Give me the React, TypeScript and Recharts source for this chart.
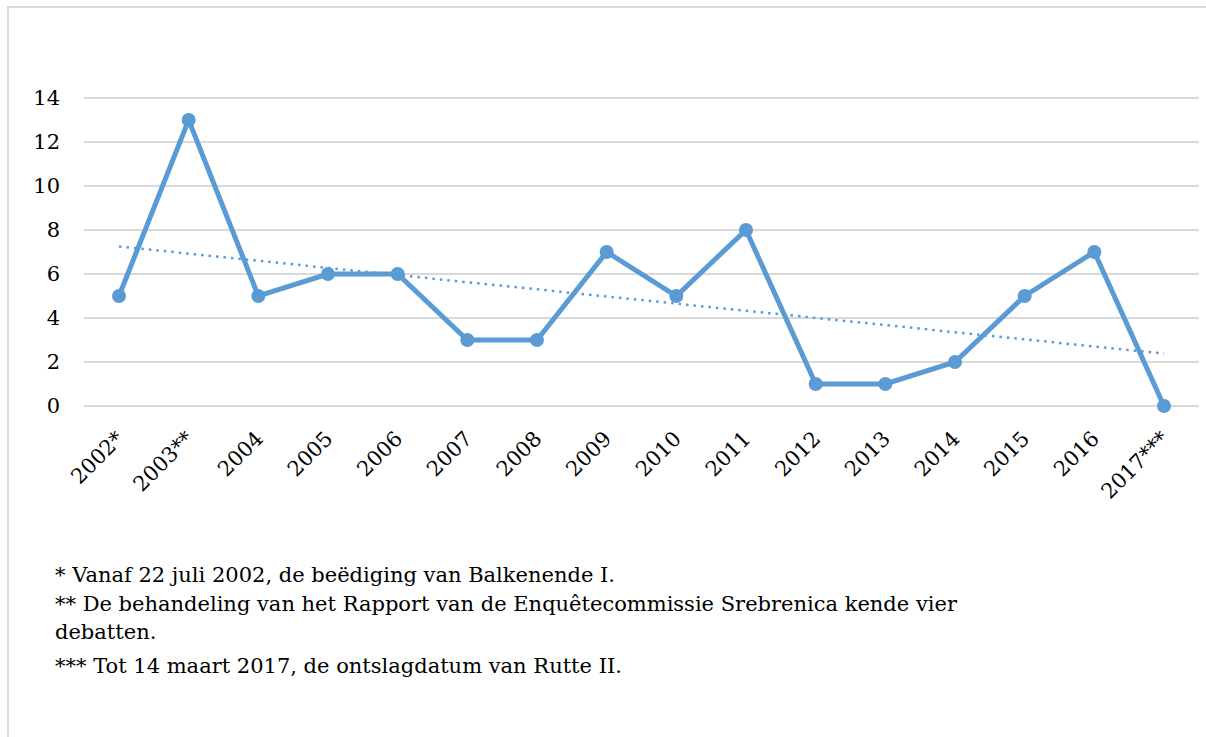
import { LineChart, Line, XAxis, YAxis, CartesianGrid } from "recharts";

const years = [
  "2002*", "2003**", "2004", "2005", "2006", "2007", "2008", "2009",
  "2010", "2011", "2012", "2013", "2014", "2015", "2016", "2017***",
];
const debates = [5, 13, 5, 6, 6, 3, 3, 7, 5, 8, 1, 1, 2, 5, 7, 0];
// linear trendline, read at the first and last year
const trendStart = 7.25;
const trendEnd = 2.38;
const yTicks = [0, 2, 4, 6, 8, 10, 12, 14];

const notes = [
  "* Vanaf 22 juli 2002, de beëdiging van Balkenende I.",
  "** De behandeling van het Rapport van de Enquêtecommissie Srebrenica kende vier",
  "debatten.",
  "*** Tot 14 maart 2017, de ontslagdatum van Rutte II.",
];
const noteTops = [561, 590, 618, 652];

const data = years.map((year, i) => ({
  year,
  debates: debates[i],
  trend: i === 0 ? trendStart : i === years.length - 1 ? trendEnd : null,
}));

const blue = "#5B9BD5";
const font = "DejaVu Serif";

function YearTick({ x, y, payload }: any) {
  const tx = x + 6;
  const ty = y + 26;
  return (
    <text
      x={tx}
      y={ty}
      transform={`rotate(-45, ${tx}, ${ty})`}
      textAnchor="end"
      style={{ fontFamily: font, fontSize: 21 }}
      fill="#000"
    >
      {payload.value}
    </text>
  );
}

export default function App() {
  return (
    <div style={{ position: "fixed", left: 0, top: 0, width: 1206, height: 737, background: "#fff", fontFamily: font }}>
      <div
        style={{
          position: "absolute",
          left: 7,
          top: 6,
          width: 1210,
          height: 740,
          borderLeft: "2px solid #d9d9d9",
          borderTop: "2px solid #d9d9d9",
          boxSizing: "border-box",
        }}
      />
      <div style={{ position: "absolute", left: 0, top: 0 }}>
        <LineChart
          width={1206}
          height={520}
          data={data}
          margin={{ top: 98, right: 7, bottom: 14, left: 0 }}
          style={{ fontFamily: font }}
        >
          <CartesianGrid vertical={false} stroke="#d9d9d9" strokeWidth={2} />
          <XAxis
            dataKey="year"
            interval={0}
            height={100}
            padding={{ left: 35, right: 35 }}
            tickLine={false}
            axisLine={{ stroke: "#d9d9d9", strokeWidth: 2 }}
            tick={<YearTick />}
          />
          <YAxis
            domain={[0, 14]}
            ticks={yTicks}
            width={84}
            tickLine={false}
            axisLine={false}
            tickSize={0}
            tickMargin={24}
            tick={{ fill: "#000", fontSize: 21, style: { fontFamily: font } }}
          />
          <Line
            dataKey="trend"
            stroke={blue}
            strokeWidth={2.5}
            strokeDasharray="2.5 5"
            dot={false}
            connectNulls
            isAnimationActive={false}
          />
          <Line
            dataKey="debates"
            stroke={blue}
            strokeWidth={5}
            dot={{ r: 7, fill: blue, stroke: blue, strokeWidth: 0 }}
            isAnimationActive={false}
          />
        </LineChart>
      </div>
      {notes.map((n, i) => (
        <div
          key={i}
          style={{
            position: "absolute",
            left: 55,
            top: noteTops[i],
            fontFamily: font,
            fontSize: 21,
            lineHeight: "28px",
            color: "#000",
            whiteSpace: "nowrap",
          }}
        >
          {n}
        </div>
      ))}
    </div>
  );
}
